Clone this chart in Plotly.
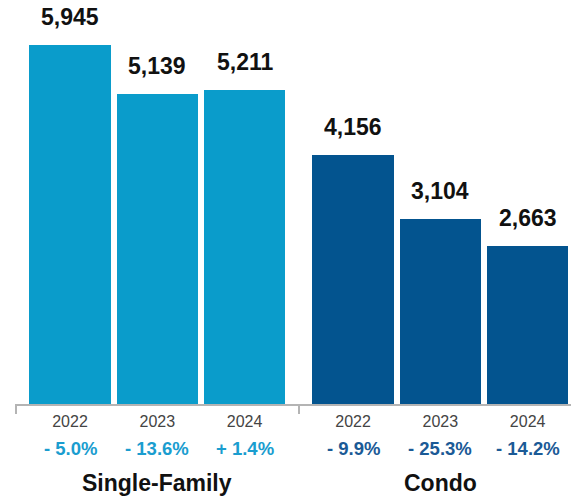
import plotly.graph_objects as go

# Sales by property type and year
groups = ["Single-Family", "Condo"]
years = ["2022", "2023", "2024"]
single_family = [5945, 5139, 5211]
condo = [4156, 3104, 2663]
sf_change = ["- 5.0%", "- 13.6%", "+ 1.4%"]
condo_change = ["- 9.9%", "- 25.3%", "- 14.2%"]

SF_COLOR = "#0A9CCB"
CONDO_COLOR = "#03548F"
SF_TEXT = "#1A9DCF"
CONDO_TEXT = "#1B5A96"
FONT = "Arial, Liberation Sans, sans-serif"

GROUP_GAP = 1.242   # distance between last bar of a group and first of next
BAR_WIDTH = 0.931

sf_x = [i for i in range(len(years))]
condo_x = [len(years) - 1 + GROUP_GAP + i for i in range(len(years))]

fig = go.Figure()
fig.add_trace(go.Bar(x=sf_x, y=single_family, width=BAR_WIDTH,
                     marker=dict(color=SF_COLOR, line=dict(width=0)),
                     showlegend=False, hoverinfo="skip"))
fig.add_trace(go.Bar(x=condo_x, y=condo, width=BAR_WIDTH,
                     marker=dict(color=CONDO_COLOR, line=dict(width=0)),
                     showlegend=False, hoverinfo="skip"))

annotations = []
# value labels above bars
for xs, vals in ((sf_x, single_family), (condo_x, condo)):
    for x, v in zip(xs, vals):
        annotations.append(dict(x=x, y=v, xref="x", yref="y",
                                text=f"{v:,}", showarrow=False,
                                yanchor="middle", yshift=28,
                                font=dict(family=FONT, size=23, color="#111111",
                                          weight="bold")))
# percentage change below year labels
for xs, labels, col in ((sf_x, sf_change, SF_TEXT), (condo_x, condo_change, CONDO_TEXT)):
    for x, t in zip(xs, labels):
        annotations.append(dict(x=x, y=0, xref="x", yref="paper",
                                text=t, showarrow=False,
                                yanchor="middle", yshift=-44,
                                font=dict(family=FONT, size=18.5, color=col,
                                          weight="bold")))
# group titles
for xs, name in ((sf_x, groups[0]), (condo_x, groups[1])):
    annotations.append(dict(x=sum(xs) / len(xs), y=0, xref="x", yref="paper",
                            text=name, showarrow=False,
                            yanchor="middle", yshift=-79,
                            font=dict(family=FONT, size=23, color="#111111",
                                      weight="bold")))

px_per_unit = 87.3
left_edge = -(70 - 15) / px_per_unit
right_edge = (571 - 70) / px_per_unit
divider = (sf_x[-1] + condo_x[0]) / 2
first_tick = -(70 - 16) / px_per_unit

fig.update_layout(
    width=575, height=499,
    margin=dict(l=15, r=4, t=0, b=95),
    paper_bgcolor="white", plot_bgcolor="white",
    bargap=0,
    annotations=annotations,
    xaxis=dict(range=[left_edge, right_edge],
               tickmode="array", tickvals=sf_x + condo_x, ticktext=years + years,
               ticks="", showgrid=False, zeroline=False,
               showline=True, linecolor="#B4B4B4", linewidth=2,
               ticklabelstandoff=2,
               tickfont=dict(family=FONT, size=16, color="#444444"),
               minor=dict(tickmode="array", tickvals=[first_tick, divider],
                          ticks="outside", ticklen=8, tickwidth=2,
                          tickcolor="#B4B4B4", showgrid=False),
               fixedrange=True),
    yaxis=dict(range=[96, 6673], visible=False, showgrid=False,
               zeroline=False, fixedrange=True),
)

fig.write_html("out.html")
